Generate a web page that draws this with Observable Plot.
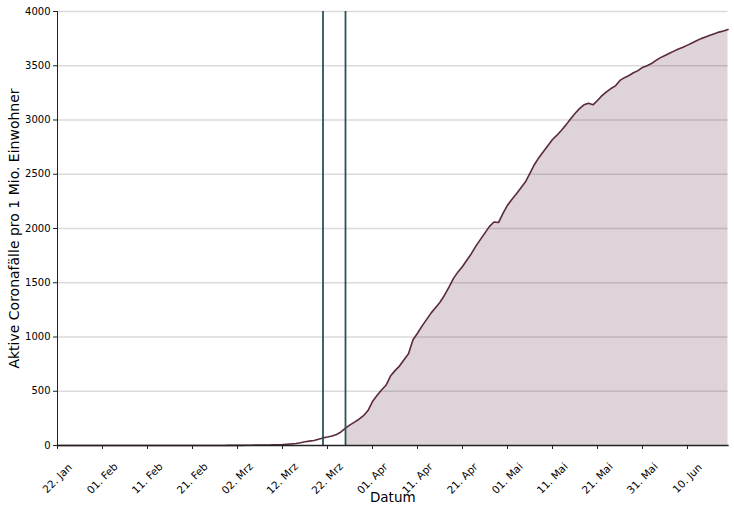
<!DOCTYPE html>
<html>
<head>
<meta charset="utf-8">
<script src="https://cdn.jsdelivr.net/npm/d3@7"></script>
<script src="https://cdn.jsdelivr.net/npm/@observablehq/plot@0.6"></script>
<style>
  html, body { margin: 0; padding: 0; background: #fff; }
  #chart svg { display: block; }
</style>
</head>
<body>
<div id="chart"></div>
<script>
// Daily active cases per 1 Mio. inhabitants, starting 22 Jan 2020
const startDate = new Date(Date.UTC(2020, 0, 22));
const activePerMillion = [
  0,0,0,0,0,0,0,0,0,0,
  0,0,0,0,0,0,0,0,0,0,
  0,0,0,0,0,0,0,0,0,0,
  0,0,0,0,0.2,0.2,0.3,0.5,0.7,1,
  1.2,1.5,2,2.5,3,3.5,4,5,6,7,
  9,12,15,19,25,34,40,46,58,70,
  78,88,102,125,160,190,215,242,275,322,
  405,460,512,555,640,690,732,790,845,975,
  1035,1100,1160,1220,1270,1320,1385,1460,1540,1600,
  1650,1710,1770,1840,1900,1960,2020,2060,2055,2140,
  2215,2270,2320,2375,2430,2510,2590,2655,2710,2765,
  2820,2860,2905,2955,3010,3060,3105,3140,3155,3140,
  3180,3225,3260,3290,3315,3365,3390,3410,3435,3455,
  3485,3500,3520,3550,3575,3595,3615,3635,3655,3670,
  3690,3710,3730,3750,3765,3780,3795,3810,3820,3835
];
// Vertical marker dates
const markerDates = [new Date(Date.UTC(2020, 2, 21)), new Date(Date.UTC(2020, 2, 26))];
const fillStart = new Date(Date.UTC(2020, 2, 26));
// Tick labels
const xTickDates = [
  [2020,0,22],[2020,1,1],[2020,1,11],[2020,1,21],[2020,2,2],[2020,2,12],[2020,2,22],
  [2020,3,1],[2020,3,11],[2020,3,21],[2020,4,1],[2020,4,11],[2020,4,21],[2020,4,31],[2020,5,10]
].map(([y,m,d]) => new Date(Date.UTC(y,m,d)));
const xTickLabels = ["22. Jan","01. Feb","11. Feb","21. Feb","02. Mrz","12. Mrz","22. Mrz",
  "01. Apr","11. Apr","21. Apr","01. Mai","11. Mai","21. Mai","31. Mai","10. Jun"];
const yTicks = [0,500,1000,1500,2000,2500,3000,3500,4000];

const data = activePerMillion.map((v, i) => ({date: d3.utcDay.offset(startDate, i), value: v}));
const endDate = data[data.length - 1].date;
const filled = data.filter(d => d.date >= fillStart);
const ticks = xTickDates.map((d, i) => ({date: d, label: xTickLabels[i]}));

const lineColor = "#5c2b41";
const chart = Plot.plot({
  width: 734,
  height: 511,
  marginLeft: 57,
  marginRight: 6.5,
  marginTop: 11,
  marginBottom: 66,
  style: {fontFamily: "DejaVu Sans", fontSize: "10px", color: "#000", background: "#fff"},
  x: {type: "utc", domain: [startDate, endDate], axis: null},
  y: {domain: [0, 4000], axis: null},
  marks: [
    Plot.areaY(filled, {x: "date", y: "value", fill: "#dfd3da"}),
    Plot.ruleY(yTicks.slice(1), {stroke: "#000", strokeOpacity: 0.14, strokeWidth: 1.3}),
    Plot.lineY(data, {x: "date", y: "value", stroke: lineColor, strokeWidth: 1.6}),
    Plot.ruleX(markerDates, {stroke: "#2b535a", strokeWidth: 1.8}),
    Plot.frame({anchor: "left", stroke: "#222", strokeWidth: 1}),
    Plot.frame({anchor: "bottom", stroke: "#222", strokeWidth: 1.3}),
    Plot.axisY({ticks: yTicks, tickSize: 4, tickPadding: 3, fontSize: 10, tickFormat: d3.format("d"), label: null, stroke: "#222"}),
    Plot.axisX({ticks: xTickDates, tickSize: 4, tickFormat: () => "", label: null, stroke: "#222"}),
    Plot.text(ticks, {x: "date", text: "label", frameAnchor: "bottom", dy: 33, rotate: -45,
      textAnchor: "middle", lineAnchor: "middle", fontSize: 10.5, fill: "#000"}),
    Plot.text(["Datum"], {frameAnchor: "bottom", dy: 52, fontSize: 13.5, lineAnchor: "middle", fill: "#000"}),
    Plot.text(["Aktive Coronafälle pro 1 Mio. Einwohner"], {frameAnchor: "left", dx: -43, rotate: -90,
      fontSize: 14, lineAnchor: "middle", textAnchor: "middle", fill: "#000"})
  ]
});
document.getElementById("chart").appendChild(chart);
</script>
</body>
</html>
